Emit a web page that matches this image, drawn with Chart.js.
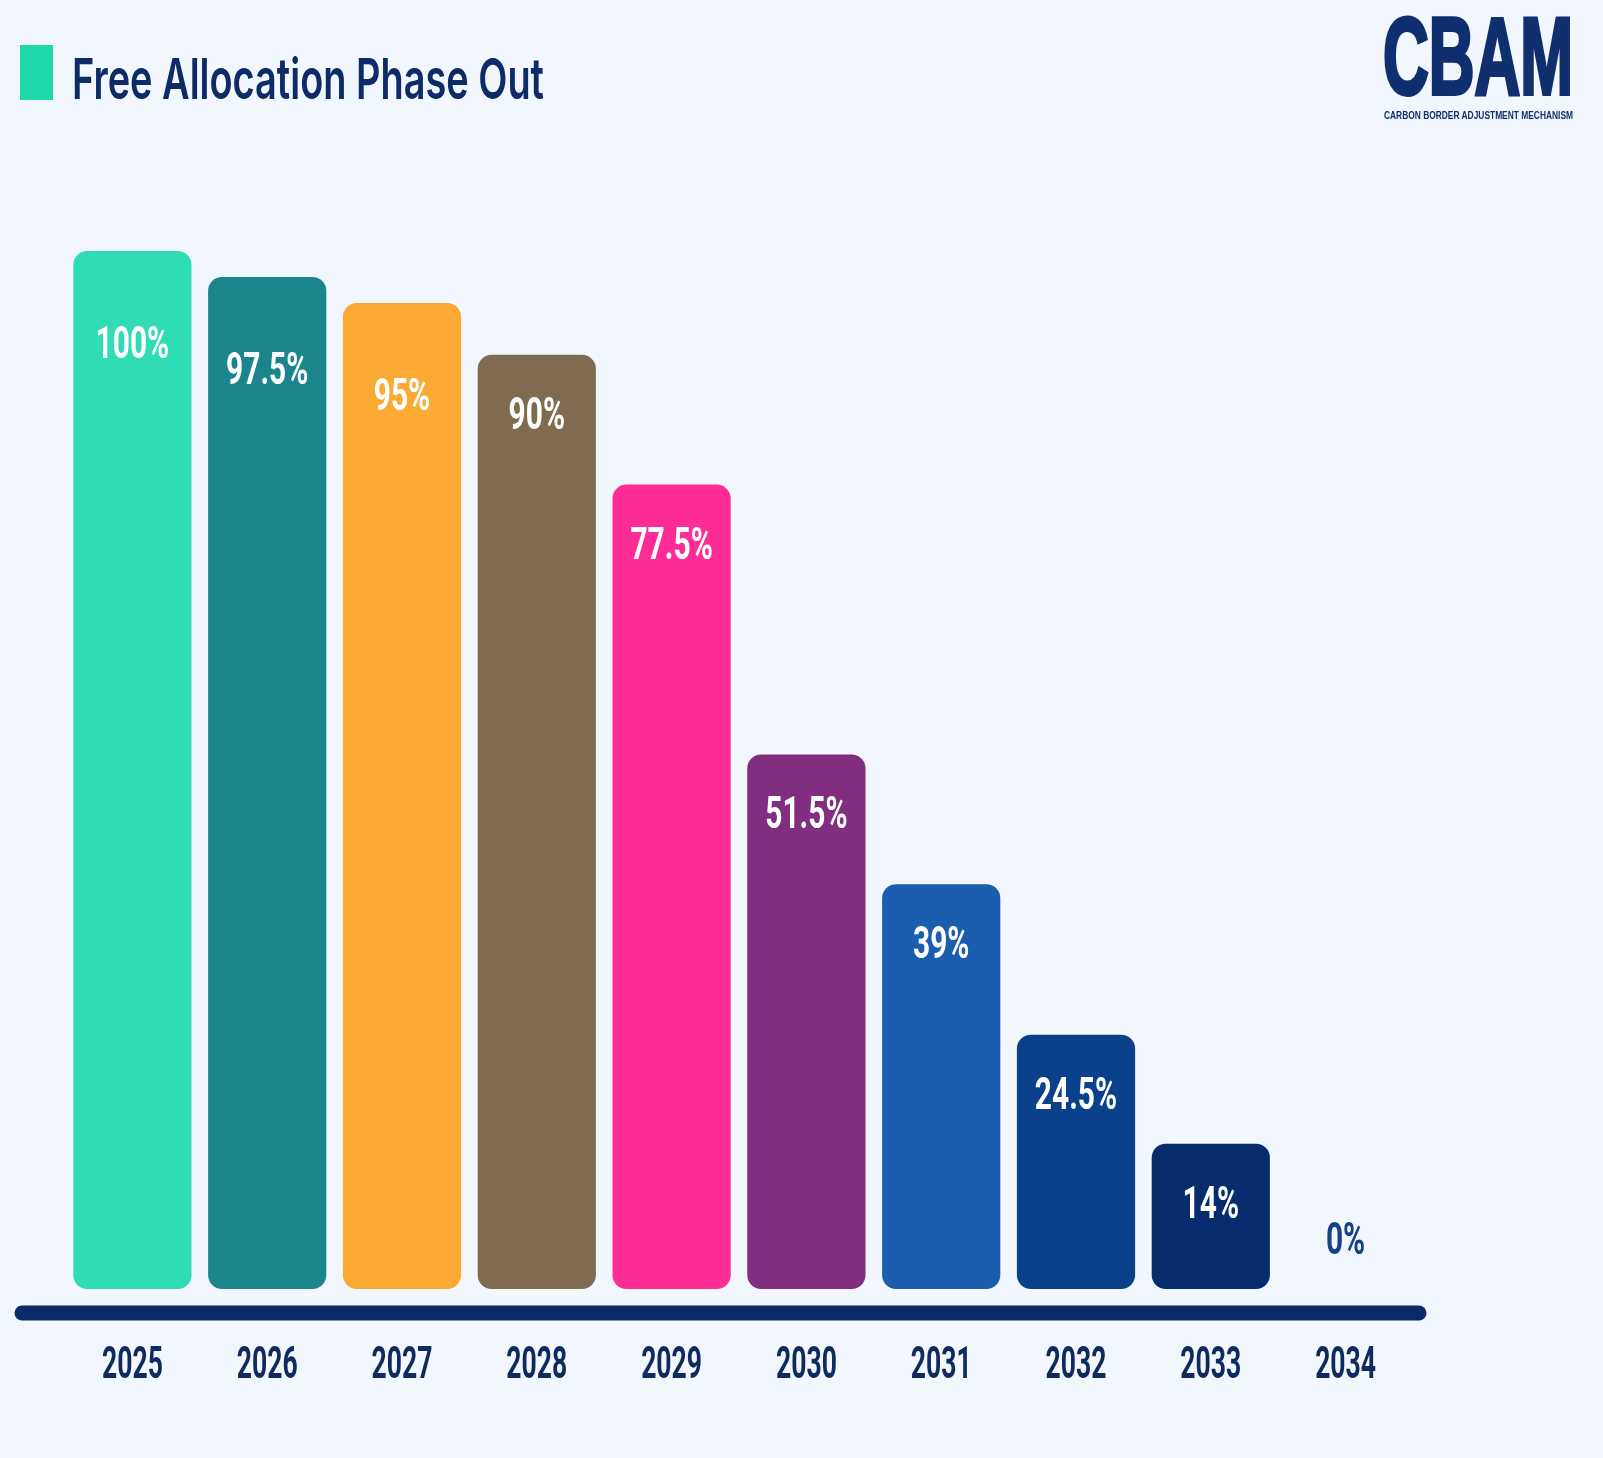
<!DOCTYPE html>
<html>
<head>
<meta charset="utf-8">
<script src="https://cdn.jsdelivr.net/npm/chart.js@4/dist/chart.umd.min.js"></script>
<style>
  html, body { margin: 0; padding: 0; background: #f2f7fd; }
  #wrap { position: relative; width: 1603px; height: 1458px; overflow: hidden; }
  #phaseChart { position: absolute; left: 0; top: 0; }
  .mark { position: absolute; left: 20px; top: 45px; width: 33px; height: 55px; background: #1ed8aa; }
  .title { position: absolute; left: 72px; top: 50px; font: 600 57px Inter, "Noto Sans", sans-serif;
           line-height: 1; color: #0d2b66; white-space: nowrap; transform-origin: 0 0; }
  .logo { position: absolute; left: 1383px; top: 1px; font: 700 110px "Liberation Sans", Arial, sans-serif;
          line-height: 1; color: #0f2f6e; white-space: nowrap; transform-origin: 0 0;
          -webkit-text-stroke: 4px #0f2f6e; }
  .logo-sub { position: absolute; left: 1384px; top: 110px; font: 700 11px "Liberation Sans", Arial, sans-serif;
              line-height: 1; color: #0f2f6e; white-space: nowrap; transform-origin: 0 0; }
</style>
</head>
<body>
<div id="wrap">
  <canvas id="phaseChart" width="1603" height="1458"></canvas>
  <div class="mark"></div>
  <div class="title" data-w="472">Free Allocation Phase Out</div>
  <div class="logo" data-w="190">CBAM</div>
  <div class="logo-sub" data-w="189">CARBON BORDER ADJUSTMENT MECHANISM</div>
</div>
<script>
const years = ['2025', '2026', '2027', '2028', '2029', '2030', '2031', '2032', '2033', '2034'];
const shares = [100, 97.5, 95, 90, 77.5, 51.5, 39, 24.5, 14, 0];
const barColors = ['#2fdcb3', '#1a858c', '#fbaa33', '#7f6b4f', '#fd2d95',
                   '#812d80', '#1b5dae', '#0b418a', '#062c6e', '#062c6e'];

const NAVY = '#0b2b68';

// squeeze the header texts to the width they have in the picture
document.querySelectorAll('[data-w]').forEach(el => {
  const w = el.getBoundingClientRect().width;
  el.style.transform = `scaleX(${el.dataset.w / w})`;
});

// value labels, year labels and the thick base line
const barLabels = {
  id: 'barLabels',
  afterDatasetsDraw(chart) {
    const { ctx, chartArea } = chart;
    const meta = chart.getDatasetMeta(0);
    ctx.save();

    ctx.strokeStyle = NAVY;
    ctx.lineWidth = 15;
    ctx.lineCap = 'round';
    ctx.beginPath();
    ctx.moveTo(chartArea.left - 43, chartArea.bottom + 24);
    ctx.lineTo(chartArea.right + 6, chartArea.bottom + 24);
    ctx.stroke();

    ctx.textAlign = 'center';
    ctx.textBaseline = 'middle';
    meta.data.forEach((bar, i) => {
      const v = shares[i];
      // tall bars carry their label a bit lower
      const y = v > 0 ? bar.y + (v >= 95 ? 96 : 63) : bar.y - 46;
      ctx.save();
      ctx.translate(bar.x, y);
      ctx.scale(0.68, 1);
      ctx.font = 'bold 44px Roboto, "Noto Sans", sans-serif';
      ctx.fillStyle = v > 0 ? '#ffffff' : '#16408c';
      ctx.fillText(v + '%', 0, 0);
      ctx.restore();

      ctx.save();
      ctx.translate(bar.x, chartArea.bottom + 78);
      ctx.scale(0.59, 1);
      ctx.font = 'bold 45px Roboto, "Noto Sans", sans-serif';
      ctx.fillStyle = '#0e2a5e';
      ctx.fillText(years[i], 0, 0);
      ctx.restore();
    });
    ctx.restore();
  }
};

new Chart(document.getElementById('phaseChart'), {
  type: 'bar',
  data: {
    labels: years,
    datasets: [{
      data: shares,
      backgroundColor: barColors,
      borderRadius: 14,
      borderSkipped: false,
      barPercentage: 0.877,
      categoryPercentage: 1
    }]
  },
  options: {
    responsive: false,
    animation: false,
    devicePixelRatio: 1,
    layout: { padding: { left: 65, right: 190, top: 251, bottom: 169 } },
    plugins: { legend: { display: false }, tooltip: { enabled: false } },
    scales: {
      x: { display: false },
      y: { display: false, min: 0, max: 100 }
    }
  },
  plugins: [barLabels]
});
</script>
</body>
</html>
